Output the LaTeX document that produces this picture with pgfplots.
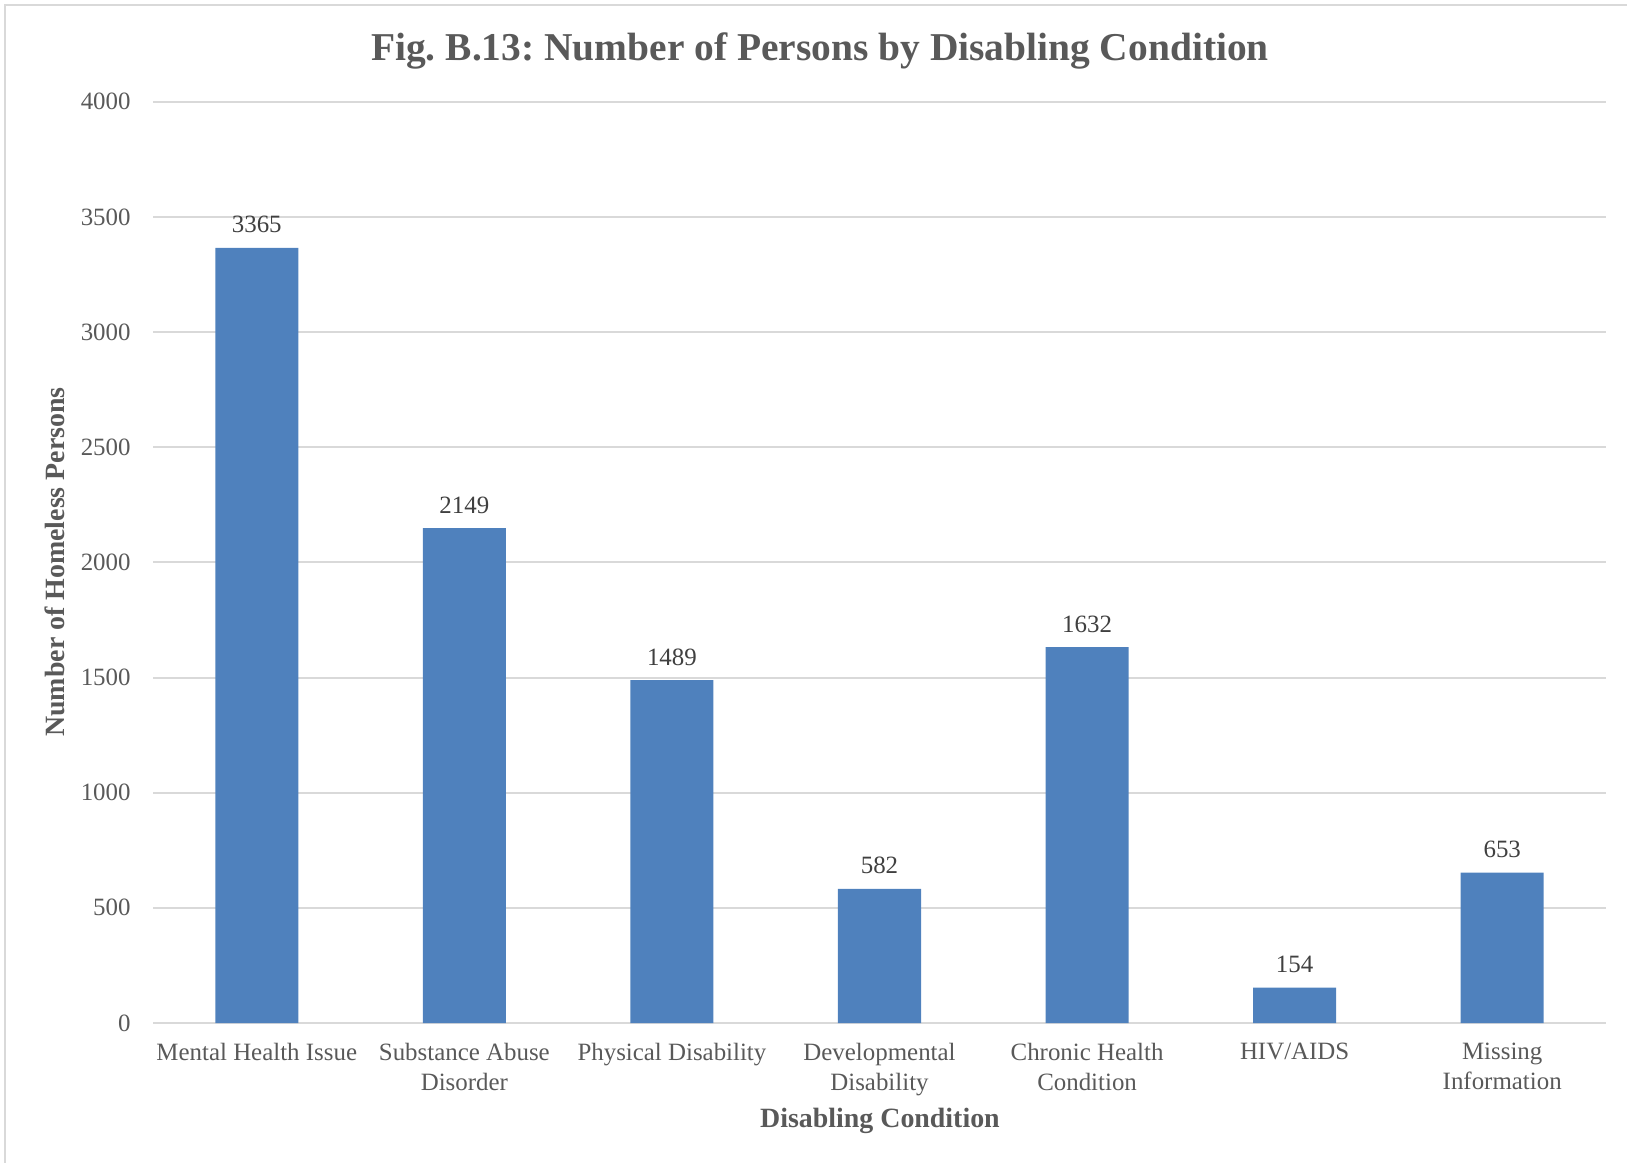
\documentclass[border=0pt]{standalone}
\usepackage{fontspec}
\setmainfont{Liberation Serif}
\usepackage{pgfplots}
\pgfplotsset{compat=1.18}
\definecolor{barblue}{HTML}{4F81BD}
\definecolor{gridgray}{HTML}{D9D9D9}
\definecolor{txtgray}{HTML}{595959}
\definecolor{lblgray}{HTML}{404040}
\frenchspacing
\begin{document}
\begin{tikzpicture}
\useasboundingbox (-76.5bp,-70bp) rectangle (737bp,511.5bp);
\draw[gridgray, line width=1.2bp] (-74bp,-70bp) -- (-74bp,509bp) -- (737bp,509bp);
\begin{axis}[
  at={(0,0)}, anchor=south west,
  scale only axis, width=726.5bp, height=460.65bp,
  xmin=-0.5, xmax=6.5, ymin=0, ymax=4000,
  ytick={0,500,...,4000},
  xtick={0,1,2,3,4,5,6},
  xticklabels={Mental Health Issue, Substance Abuse\\Disorder, Physical Disability, Developmental\\Disability, Chronic Health\\Condition, HIV/AIDS, Missing\\Information},
  axis x line*=bottom, axis y line*=left,
  x axis line style={gridgray, line width=1bp, -},
  y axis line style={draw=none},
  ymajorgrids, grid style={gridgray, line width=1bp},
  major tick length=0pt,
  /pgf/number format/1000 sep={},
  /pgf/number format/assume math mode=true,
  scaled y ticks=false,
  yticklabel style={font=\fontsize{12.5}{15}\selectfont, text=txtgray, anchor=east, inner sep=0pt, xshift=-11bp},
  xticklabel style={font=\fontsize{12.5}{15}\selectfont, text=txtgray, align=center, anchor=north, inner sep=0pt, yshift=-10bp},
  ybar, bar width=0.4,
  nodes near coords,
  every node near coord/.append style={font=\fontsize{12.5}{15}\selectfont, text=lblgray, anchor=base, inner sep=0pt, yshift=7.5bp},
  clip=false,
]
\addplot[fill=barblue, draw=none] coordinates {(0,3365) (1,2149) (2,1489) (3,582) (4,1632) (5,154) (6,653)};
\end{axis}
\node[font=\bfseries\fontsize{19.8}{23}\selectfont, text=txtgray] at (333.5bp,486bp) {Fig. B.13: Number of Persons by Disabling Condition};
\node[font=\bfseries\fontsize{14}{17}\selectfont, text=txtgray, rotate=90] at (-49bp,230.5bp) {Number of Homeless Persons};
\node[font=\bfseries\fontsize{14}{17}\selectfont, text=txtgray] at (363.5bp,-49bp) {Disabling Condition};
\end{tikzpicture}
\end{document}
